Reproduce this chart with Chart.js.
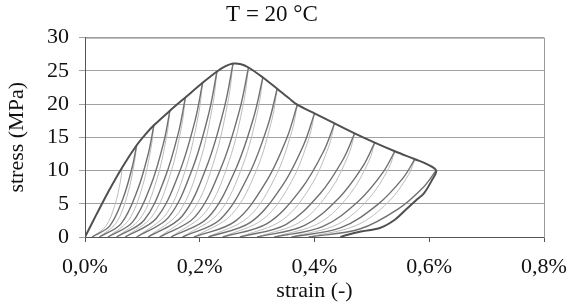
<!DOCTYPE html>
<html>
<head>
<meta charset="utf-8">
<script src="https://cdn.jsdelivr.net/npm/chart.js@4/dist/chart.umd.min.js"></script>
<style>
  html, body { margin: 0; padding: 0; background: #fff; }
  #wrap { width: 569px; height: 306px; }
</style>
</head>
<body>
<div id="wrap"><canvas id="stressChart"></canvas></div>
<script>
// strain in %, stress in MPa
const strainTicks = [0, 0.2, 0.4, 0.6, 0.8];
const stressTicks = [0, 5, 10, 15, 20, 25, 30];

// outer envelope, ending with the last unloading branch
const envelope = [
  [0, 0], [0.02, 3.4], [0.04, 6.7], [0.065, 10.5], [0.09, 13.8], [0.105, 15.4], [0.12, 16.8],
  [0.148, 19], [0.175, 21], [0.205, 23.2], [0.23, 24.9], [0.245, 25.7], [0.258, 26.1],
  [0.272, 26], [0.285, 25.5], [0.31, 24], [0.335, 22.3], [0.355, 20.9], [0.37, 19.9],
  [0.40, 18.6], [0.435, 17.1], [0.47, 15.6], [0.505, 14.2], [0.54, 12.9], [0.575, 11.7],
  [0.595, 11], [0.612, 10], [0.605, 8.6], [0.591, 6.6], [0.578, 5.6], [0.559, 4.1],
  [0.54, 2.6], [0.515, 1.4], [0.483, 0.85], [0.458, 0.35], [0.445, 0]
];

// unloading branches (light)
const unloadCurves = [
  [[0.065, 10.5], [0.0618, 8.4], [0.0518, 4.73], [0.0359, 1.58], [0.012, 0]],
  [[0.09, 13.8], [0.0861, 11.2], [0.0738, 6.3], [0.0543, 2.1], [0.025, 0]],
  [[0.12, 16.8], [0.1152, 13.44], [0.10, 7.56], [0.076, 2.52], [0.04, 0]],
  [[0.148, 19], [0.1424, 15.2], [0.1248, 8.55], [0.0969, 2.85], [0.055, 0]],
  [[0.175, 21], [0.1687, 16.8], [0.1488, 9.45], [0.1173, 3.15], [0.07, 0]],
  [[0.205, 23.2], [0.1981, 18.56], [0.1763, 10.44], [0.1418, 3.48], [0.09, 0]],
  [[0.23, 24.9], [0.2228, 19.92], [0.20, 11.2], [0.164, 3.74], [0.11, 0]],
  [[0.258, 26.1], [0.2503, 20.88], [0.226, 11.75], [0.1876, 3.92], [0.13, 0]],
  [[0.285, 25.5], [0.2769, 20.4], [0.2513, 11.48], [0.2108, 3.83], [0.15, 0]],
  [[0.31, 24], [0.3016, 19.2], [0.275, 10.8], [0.233, 3.6], [0.17, 0]],
  [[0.335, 22.3], [0.3263, 17.84], [0.2988, 10.04], [0.2553, 3.35], [0.19, 0]],
  [[0.37, 19.9], [0.3607, 15.92], [0.3313, 8.96], [0.2848, 2.99], [0.215, 0]],
  [[0.40, 18.6], [0.3904, 14.88], [0.36, 8.37], [0.312, 2.79], [0.24, 0]],
  [[0.435, 17.1], [0.4251, 13.68], [0.3938, 7.7], [0.3443, 2.57], [0.27, 0]],
  [[0.47, 15.6], [0.4598, 12.48], [0.4275, 7.02], [0.3765, 2.34], [0.30, 0]],
  [[0.505, 14.2], [0.4945, 11.36], [0.4613, 6.39], [0.4088, 2.13], [0.33, 0]],
  [[0.54, 12.9], [0.5292, 10.32], [0.495, 5.81], [0.441, 1.94], [0.36, 0]],
  [[0.575, 11.7], [0.5639, 9.36], [0.5288, 5.27], [0.4733, 1.76], [0.39, 0]]
];

// reloading branches (dark)
const reloadCurves = [
  [[0.012, 0], [0.0432, 1.68], [0.0666, 5.88], [0.0822, 10.5], [0.09, 13.8]],
  [[0.025, 0], [0.063, 2.02], [0.0915, 7.06], [0.1105, 12.6], [0.12, 16.8]],
  [[0.04, 0], [0.0832, 2.28], [0.1156, 7.98], [0.1372, 14.25], [0.148, 19]],
  [[0.055, 0], [0.103, 2.52], [0.139, 8.82], [0.163, 15.75], [0.175, 21]],
  [[0.07, 0], [0.124, 2.78], [0.1645, 9.74], [0.1915, 17.4], [0.205, 23.2]],
  [[0.09, 0], [0.146, 2.99], [0.188, 10.46], [0.216, 18.68], [0.23, 24.9]],
  [[0.11, 0], [0.1692, 3.13], [0.2136, 10.96], [0.2432, 19.58], [0.258, 26.1]],
  [[0.13, 0], [0.192, 3.06], [0.2385, 10.71], [0.2695, 19.13], [0.285, 25.5]],
  [[0.15, 0], [0.214, 2.88], [0.262, 10.08], [0.294, 18], [0.31, 24]],
  [[0.17, 0], [0.236, 2.68], [0.2855, 9.37], [0.3185, 16.73], [0.335, 22.3]],
  [[0.19, 0], [0.262, 2.39], [0.316, 8.36], [0.352, 14.93], [0.37, 19.9]],
  [[0.215, 0], [0.289, 2.23], [0.3445, 7.81], [0.3815, 13.95], [0.40, 18.6]],
  [[0.24, 0], [0.318, 2.05], [0.3765, 7.18], [0.4155, 12.83], [0.435, 17.1]],
  [[0.27, 0], [0.35, 1.87], [0.41, 6.55], [0.45, 11.7], [0.47, 15.6]],
  [[0.30, 0], [0.382, 1.7], [0.4435, 5.96], [0.4845, 10.65], [0.505, 14.2]],
  [[0.33, 0], [0.414, 1.55], [0.477, 5.42], [0.519, 9.68], [0.54, 12.9]],
  [[0.36, 0], [0.446, 1.4], [0.5105, 4.91], [0.5535, 8.78], [0.575, 11.7]],
  [[0.39, 0], [0.4788, 1.2], [0.5454, 4.2], [0.5898, 7.5], [0.612, 10]]
];

const toPoints = arr => arr.map(p => ({ x: p[0], y: p[1] }));

function curveSet(curve, color, width, order) {
  return {
    data: toPoints(curve),
    showLine: true,
    borderColor: color,
    borderWidth: width,
    pointRadius: 0,
    tension: 0.35,
    order: order
  };
}

const datasets = [];
datasets.push(curveSet(envelope, '#505050', 2, 0));
reloadCurves.forEach(c => datasets.push(curveSet(c, '#707070', 1.4, 1)));
unloadCurves.forEach(c => datasets.push(curveSet(c, '#bcbcbc', 1, 2)));

// plot frame
const frame = {
  id: 'frame',
  afterDraw(chart) {
    const { ctx, chartArea: a } = chart;
    ctx.save();
    ctx.strokeStyle = '#9a9a9a';
    ctx.lineWidth = 1;
    ctx.strokeRect(a.left + 0.5, a.top + 0.5, a.right - a.left, a.bottom - a.top);
    ctx.strokeStyle = '#555';
    ctx.beginPath();
    ctx.moveTo(a.left + 0.5, a.top);
    ctx.lineTo(a.left + 0.5, a.bottom + 0.5);
    ctx.lineTo(a.right, a.bottom + 0.5);
    ctx.stroke();
    ctx.restore();
  }
};

const serif = 'Liberation Serif, Times New Roman, serif';

new Chart(document.getElementById('stressChart'), {
  type: 'scatter',
  data: { datasets },
  plugins: [frame],
  options: {
    responsive: true,
    maintainAspectRatio: false,
    animation: false,
    layout: { padding: { left: 0, right: 25, top: 0, bottom: 0 } },
    plugins: {
      legend: { display: false },
      tooltip: { enabled: false },
      title: {
        display: true,
        text: 'T = 20 °C',
        color: '#111',
        font: { family: serif, size: 23, weight: 'normal' },
        padding: { top: 1, bottom: 9 }
      }
    },
    scales: {
      x: {
        type: 'linear',
        min: strainTicks[0],
        max: strainTicks[strainTicks.length - 1],
        afterBuildTicks: s => { s.ticks = strainTicks.map(v => ({ value: v })); },
        afterFit: s => { s.height = 69; s.paddingLeft = 0; s.paddingRight = 0; },
        ticks: {
          color: '#111',
          padding: 12,
          font: { family: serif, size: 22 },
          callback: v => v.toFixed(1).replace('.', ',') + '%'
        },
        grid: { drawOnChartArea: false, color: '#555', tickLength: 5 },
        border: { color: '#555' },
        title: {
          display: true,
          text: 'strain (-)',
          color: '#111',
          font: { family: serif, size: 22 },
          padding: { top: 0, bottom: 2 }
        }
      },
      y: {
        min: stressTicks[0],
        max: stressTicks[stressTicks.length - 1],
        afterBuildTicks: s => { s.ticks = stressTicks.map(v => ({ value: v })); },
        afterFit: s => { s.width = 85; },
        ticks: {
          color: '#111',
          padding: 10,
          font: { family: serif, size: 22 }
        },
        grid: { color: '#a0a0a0', tickLength: 6 },
        border: { color: '#555' },
        title: {
          display: true,
          text: 'stress (MPa)',
          color: '#111',
          font: { family: serif, size: 22 },
          padding: { top: 4, bottom: 0 }
        }
      }
    }
  }
});
</script>
</body>
</html>
